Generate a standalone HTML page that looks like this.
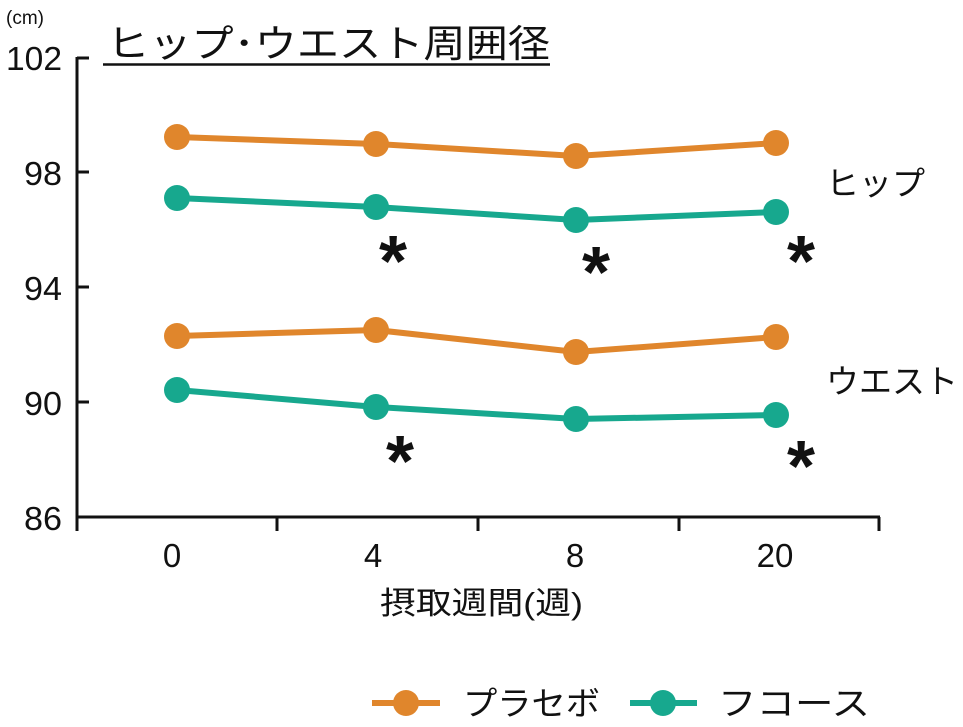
<!DOCTYPE html>
<html><head><meta charset="utf-8"><style>
html,body{margin:0;padding:0;background:#fff;}
svg{display:block;}
text{font-family:"Liberation Sans","Noto Sans CJK JP",sans-serif;fill:#111;}
</style></head><body>
<svg width="963" height="727" viewBox="0 0 963 727" xmlns="http://www.w3.org/2000/svg">
<text x="6" y="24" font-size="19">(cm)</text>
<text x="107" y="57" font-size="38" textLength="443" lengthAdjust="spacingAndGlyphs">ヒップ･ウエスト周囲径</text>
<line x1="103" y1="64.5" x2="550" y2="64.5" stroke="#111" stroke-width="2.5"/>
<g stroke="#111" stroke-width="3" fill="none">
<line x1="77" y1="57" x2="77" y2="518"/>
<line x1="76" y1="517" x2="880" y2="517"/>
<line x1="77" y1="58" x2="89" y2="58"/>
<line x1="77" y1="172" x2="89" y2="172"/>
<line x1="77" y1="287" x2="89" y2="287"/>
<line x1="77" y1="402" x2="89" y2="402"/>
<line x1="277" y1="517" x2="277" y2="531"/>
<line x1="478" y1="517" x2="478" y2="531"/>
<line x1="679" y1="517" x2="679" y2="531"/>
<line x1="879" y1="517" x2="879" y2="531"/>
<line x1="77" y1="517" x2="77" y2="531"/>
</g>
<g font-size="33">
<text x="6" y="70" textLength="56" lengthAdjust="spacingAndGlyphs">102</text>
<text x="24" y="185" textLength="38" lengthAdjust="spacingAndGlyphs">98</text>
<text x="24" y="300" textLength="38" lengthAdjust="spacingAndGlyphs">94</text>
<text x="24" y="415" textLength="38" lengthAdjust="spacingAndGlyphs">90</text>
<text x="24" y="530" textLength="38" lengthAdjust="spacingAndGlyphs">86</text>
</g>
<g font-size="33" text-anchor="middle">
<text x="172" y="567">0</text>
<text x="373" y="567">4</text>
<text x="575" y="567">8</text>
<text x="775" y="567">20</text>
</g>
<text x="380" y="614" font-size="31" textLength="203" lengthAdjust="spacingAndGlyphs">摂取週間(週)</text>
<g stroke-width="6" fill="none">
<polyline stroke="#E0862C" points="177,137 376,144 576,156 776,143"/>
<polyline stroke="#17A88E" points="177,198 376,207 576,220 776,212"/>
<polyline stroke="#E0862C" points="177,336 376,330 576,352 776,337"/>
<polyline stroke="#17A88E" points="177,390 376,407 576,419 776,415"/>
</g>
<g fill="#E0862C">
<circle cx="177" cy="137" r="13"/><circle cx="376" cy="144" r="13"/><circle cx="576" cy="156" r="13"/><circle cx="776" cy="143" r="13"/>
<circle cx="177" cy="336" r="13"/><circle cx="376" cy="330" r="13"/><circle cx="576" cy="352" r="13"/><circle cx="776" cy="337" r="13"/>
</g>
<g fill="#17A88E">
<circle cx="177" cy="198" r="13"/><circle cx="376" cy="207" r="13"/><circle cx="576" cy="220" r="13"/><circle cx="776" cy="212" r="13"/>
<circle cx="177" cy="390" r="13"/><circle cx="376" cy="407" r="13"/><circle cx="576" cy="419" r="13"/><circle cx="776" cy="415" r="13"/>
</g>
<g font-size="72" font-weight="bold" text-anchor="middle">
<text x="393" y="286">*</text>
<text x="596" y="297">*</text>
<text x="801" y="286">*</text>
<text x="400" y="486">*</text>
<text x="801" y="491">*</text>
</g>
<text x="826" y="195" font-size="33" textLength="99" lengthAdjust="spacingAndGlyphs">ヒップ</text>
<text x="826" y="393" font-size="33" textLength="132" lengthAdjust="spacingAndGlyphs">ウエスト</text>
<line x1="372" y1="703" x2="440" y2="703" stroke="#E0862C" stroke-width="6"/>
<circle cx="406" cy="703" r="13" fill="#E0862C"/>
<text x="463" y="715" font-size="33" textLength="137" lengthAdjust="spacingAndGlyphs">プラセボ</text>
<line x1="630" y1="703" x2="697" y2="703" stroke="#17A88E" stroke-width="6"/>
<circle cx="663" cy="703" r="13" fill="#17A88E"/>
<text x="718" y="715" font-size="33" textLength="152" lengthAdjust="spacingAndGlyphs">フコース</text>
</svg>
</body></html>
